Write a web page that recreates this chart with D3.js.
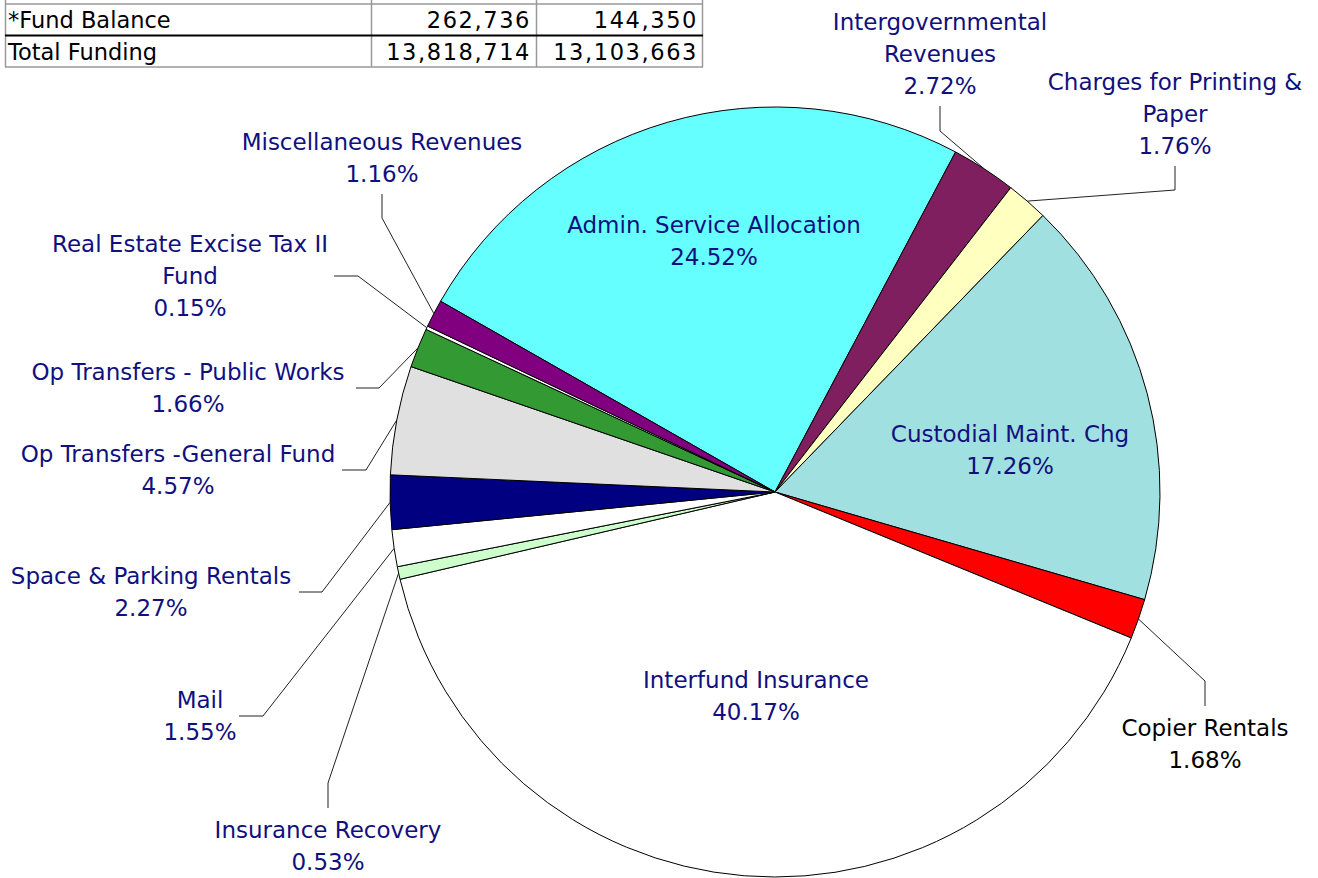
<!DOCTYPE html>
<html>
<head>
<meta charset="utf-8">
<script src="https://cdn.jsdelivr.net/npm/d3@7"></script>
<style>
  body { margin: 0; background: #fff; }
  text { font-family: "DejaVu Sans", sans-serif; }
</style>
</head>
<body>
<div id="chart"></div>
<script>
'use strict'

// slices, clockwise from the Admin slice
const categories = [
    'Admin. Service Allocation',
    'Intergovernmental\nRevenues',
    'Charges for Printing &\nPaper',
    'Custodial Maint. Chg',
    'Copier Rentals',
    'Interfund Insurance',
    'Insurance Recovery',
    'Mail',
    'Space & Parking Rentals',
    'Op Transfers -General Fund',
    'Op Transfers - Public Works',
    'Real Estate Excise Tax II\nFund',
    'Miscellaneous Revenues'
]
const shares = [24.52, 2.72, 1.76, 17.26, 1.68, 40.17, 0.53, 1.55, 2.27, 4.57, 1.66, 0.15, 1.16]
const sliceColors = ['#66ffff', '#7f1f5f', '#ffffc0', '#a0e0e0', '#ff0000', '#ffffff', '#ccffcc',
    '#ffffff', '#000080', '#e0e0e0', '#339933', '#ffffff', '#800080']

// funding table (top row is cut off in the picture)
const tableLabels = ['', '*Fund Balance', 'Total Funding']
const tableCol1 = ['', '262,736', '13,818,714']
const tableCol2 = ['', '144,350', '13,103,663']

// label placement: text centre x, first line y, leader elbow + end (null = inside label)
const labelLayout = [
    { x: 714, y: 225, leader: null },
    { x: 940, y: 22, leader: [940, 131, 940, 106] },
    { x: 1175, y: 82, leader: [1175, 190, 1175, 166] },
    { x: 1010, y: 434, leader: null },
    { x: 1205, y: 728, leader: [1205, 681, 1205, 706] },
    { x: 756, y: 680, leader: null },
    { x: 328, y: 830, leader: [328, 783, 328, 808] },
    { x: 200, y: 700, leader: [263, 716, 239, 716] },
    { x: 151, y: 576, leader: [322, 592, 299, 592] },
    { x: 178, y: 454, leader: [366, 470, 342, 470] },
    { x: 188, y: 372, leader: [379, 388, 356, 388] },
    { x: 190, y: 244, leader: [358, 276, 334, 276] },
    { x: 382, y: 142, leader: [382, 218, 382, 194] }
]

const svgWidth = 1318
const svgHeight = 878
const cx = 775, cy = 492, radius = 385
const lineH = 32
const startDeg = -60.3

const svg = d3.select('#chart')
    .append('svg')
    .attr('width', svgWidth)
    .attr('height', svgHeight)

////////////////////////////////////
//////////////table/////////////////
////////////////////////////////////

const colX = [5, 371, 536, 702]
const rowY = [-28, 4, 36, 67]
const table = svg.append('g')

tableLabels.forEach(function (lab, i) {
    const mid = (rowY[i] + rowY[i + 1]) / 2
    table.append('text').attr('x', colX[0] + 3).attr('y', mid).attr('dy', '0.36em')
        .attr('font-size', 22.5).attr('fill', '#000').text(lab)
    table.append('text').attr('x', colX[2] - 5).attr('y', mid).attr('dy', '0.36em')
        .attr('text-anchor', 'end').attr('font-size', 22.5).attr('letter-spacing', 1.6)
        .attr('fill', '#000').text(tableCol1[i])
    table.append('text').attr('x', colX[3] - 4).attr('y', mid).attr('dy', '0.36em')
        .attr('text-anchor', 'end').attr('font-size', 22.5).attr('letter-spacing', 1.6)
        .attr('fill', '#000').text(tableCol2[i])
})

// grid
colX.forEach(function (x) {
    table.append('line').attr('x1', x + 0.5).attr('x2', x + 0.5)
        .attr('y1', 0).attr('y2', rowY[3])
        .attr('stroke', '#999').attr('stroke-width', 1.5)
})
table.append('line').attr('x1', colX[0]).attr('x2', colX[3] + 1)
    .attr('y1', rowY[1]).attr('y2', rowY[1]).attr('stroke', '#999').attr('stroke-width', 1.5)
table.append('line').attr('x1', colX[0]).attr('x2', colX[3] + 1)
    .attr('y1', rowY[2] - 0.5).attr('y2', rowY[2] - 0.5).attr('stroke', '#000').attr('stroke-width', 2)
table.append('line').attr('x1', colX[0]).attr('x2', colX[3] + 1)
    .attr('y1', rowY[3]).attr('y2', rowY[3]).attr('stroke', '#999').attr('stroke-width', 1.5)

////////////////////////////////////
///////////////pie//////////////////
////////////////////////////////////

const data = categories.map(function (c, i) {
    return { name: c, value: shares[i], color: sliceColors[i], layout: labelLayout[i] }
})

const pie = d3.pie()
    .sort(null)
    .value(d => d.value)
    .startAngle(startDeg * Math.PI / 180)
    .endAngle(startDeg * Math.PI / 180 + 2 * Math.PI)

const arc = d3.arc().innerRadius(0).outerRadius(radius)
const edgeArc = d3.arc().innerRadius(radius).outerRadius(radius)

const arcs = pie(data)

const g = svg.append('g').attr('transform', `translate(${cx},${cy})`)

g.selectAll('.slice')
    .data(arcs)
    .join('path')
    .attr('class', 'slice')
    .attr('d', arc)
    .attr('fill', d => d.data.color)
    .attr('stroke', '#000')
    .attr('stroke-width', 1)
    .attr('stroke-linejoin', 'round')

// leader lines
svg.selectAll('.leader')
    .data(arcs.filter(d => d.data.layout.leader))
    .join('polyline')
    .attr('class', 'leader')
    .attr('fill', 'none')
    .attr('stroke', '#222')
    .attr('stroke-width', 1)
    .attr('points', function (d) {
        const p = edgeArc.centroid(d)
        const l = d.data.layout.leader
        return [[p[0] + cx, p[1] + cy], [l[0], l[1]], [l[2], l[3]]].map(q => q.join(',')).join(' ')
    })

// labels
const labels = svg.selectAll('.pie-label')
    .data(arcs)
    .join('text')
    .attr('class', 'pie-label')
    .attr('text-anchor', 'middle')
    .attr('font-size', 23)
    .attr('fill', d => d.data.name === 'Copier Rentals' ? '#000' : '#10107e')

labels.each(function (d) {
    const lines = d.data.name.split('\n').concat([d.data.value.toFixed(2) + '%'])
    const t = d3.select(this)
    lines.forEach(function (s, k) {
        t.append('tspan')
            .attr('x', d.data.layout.x)
            .attr('y', d.data.layout.y + k * lineH)
            .attr('dy', '0.36em')
            .text(s)
    })
})
</script>
</body>
</html>
